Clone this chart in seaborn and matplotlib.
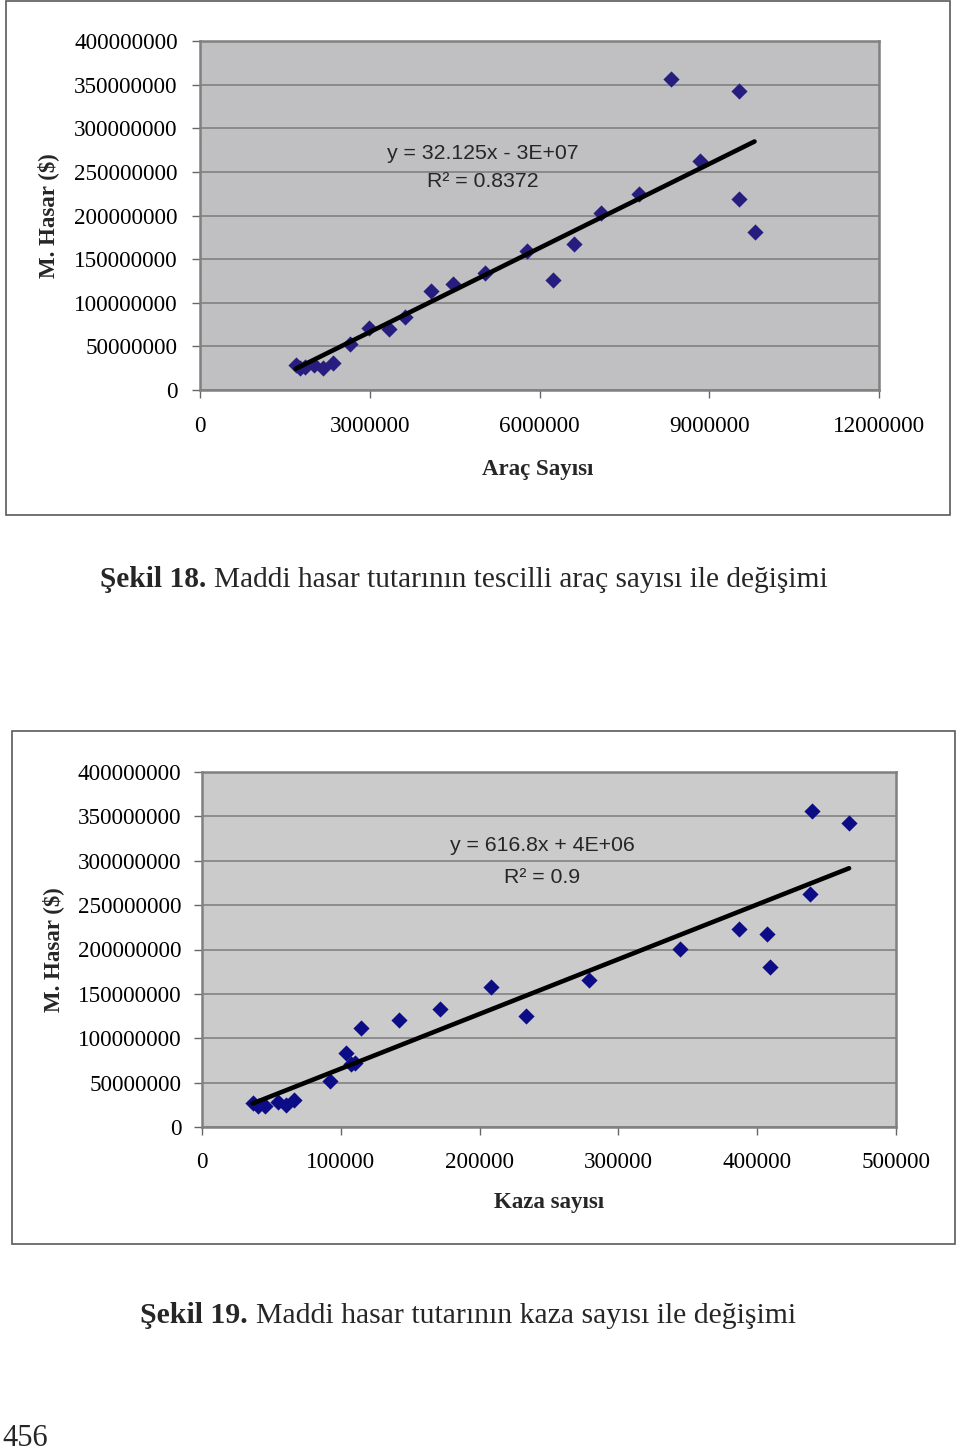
import numpy as np
import pandas as pd
import matplotlib
matplotlib.use("Agg")
import matplotlib.pyplot as plt
from matplotlib.patches import Rectangle
from matplotlib.ticker import FuncFormatter
import seaborn as sns

# ---------------- data: Şekil 18 (Araç sayısı vs M. Hasar) ----------------
arac_sayisi = [1.69e6, 1.77e6, 1.86e6, 2.02e6, 2.17e6, 2.35e6, 2.65e6, 2.98e6,
               3.34e6, 3.63e6, 4.08e6, 4.47e6, 5.04e6, 5.78e6, 6.23e6, 6.61e6,
               7.09e6, 7.76e6, 8.33e6, 8.83e6, 9.52e6, 9.52e6, 9.80e6]
hasar_18 = [28.7e6, 24.9e6, 26.0e6, 28.7e6, 25.7e6, 30.6e6, 52.8e6, 71.6e6,
            70.0e6, 84.2e6, 113.7e6, 121.0e6, 134.0e6, 159.6e6, 125.6e6, 167.7e6,
            202.5e6, 224.3e6, 356.8e6, 261.9e6, 342.6e6, 219.0e6, 181.0e6]
fit18_slope = 32.125
fit18_intercept = -3e7
eq18 = "y = 32.125x - 3E+07"
r2_18 = "R² = 0.8372"
xticks18 = [0, 3000000, 6000000, 9000000, 12000000]

# ---------------- data: Şekil 19 (Kaza sayısı vs M. Hasar) ----------------
kaza_sayisi = [36.4e3, 40.7e3, 45.7e3, 55.0e3, 60.6e3, 66.2e3, 92.0e3, 103.6e3,
               107.6e3, 110.0e3, 114.9e3, 141.7e3, 171.5e3, 208.3e3, 233.4e3, 279.1e3,
               344.4e3, 387.1e3, 407.0e3, 409.3e3, 438.1e3, 439.7e3, 466.2e3]
hasar_19 = [27.5e6, 23.7e6, 23.7e6, 28.2e6, 24.8e6, 30.1e6, 51.9e6, 83.1e6,
            70.7e6, 72.0e6, 112.1e6, 120.4e6, 133.2e6, 157.3e6, 124.9e6, 165.9e6,
            200.9e6, 223.1e6, 217.5e6, 180.2e6, 262.6e6, 355.9e6, 342.4e6]
fit19_slope = 616.8
fit19_intercept = 4e6
eq19 = "y = 616.8x + 4E+06"
r2_19 = "R² = 0.9"
xticks19 = [0, 100000, 200000, 300000, 400000, 500000]

yticks = [0, 50000000, 100000000, 150000000, 200000000, 250000000,
          300000000, 350000000, 400000000]
ylabel = "M. Hasar ($)"

sns.set_theme(style="white")
plt.rcParams['font.family'] = ['Liberation Serif', 'DejaVu Serif']

W, H = 960, 1453
fig = plt.figure(figsize=(W / 100, H / 100), dpi=100)


def rect(x0, y0, x1, y1):
    return [x0 / W, 1 - y1 / H, (x1 - x0) / W, (y1 - y0) / H]


def frame(x0, y0, x1, y1):
    fig.add_artist(Rectangle((x0 / W, 1 - y1 / H), (x1 - x0) / W, (y1 - y0) / H,
                             transform=fig.transFigure, fill=False,
                             edgecolor='#5a5a5a', lw=1.2))


def panel(box, x, y, slope, icpt, xticks, color, bg, xlabel, eq, r2,
          eqx, eqy1, eqy2, xlab_pos, ylab_pos, xpad, ypad):
    ax = fig.add_axes(rect(*box))
    ax.set_facecolor(bg)
    df = pd.DataFrame({'x': x, 'y': y})
    xs = np.array([min(x), max(x)])
    line = pd.DataFrame({'x': xs, 'y': slope * xs + icpt})
    sns.scatterplot(data=df, x='x', y='y', ax=ax, marker='D', s=68,
                    color=color, edgecolor=color, linewidth=0, zorder=3)
    sns.lineplot(data=line, x='x', y='y', ax=ax, color='black', lw=3.3, zorder=4)
    ax.set_xlim(xticks[0], xticks[-1])
    ax.set_ylim(yticks[0], yticks[-1])
    ax.set_xticks(xticks)
    ax.set_yticks(yticks)
    fmt = FuncFormatter(lambda v, p: f"{int(round(v))}")
    ax.xaxis.set_major_formatter(fmt)
    ax.yaxis.set_major_formatter(fmt)
    ax.yaxis.grid(True, color='#7c7c7c', lw=1.1)
    ax.xaxis.grid(False)
    ax.set_axisbelow(True)
    for s in ax.spines.values():
        s.set_visible(True)
        s.set_color('#808080')
        s.set_linewidth(1.8)
    ax.tick_params(axis='both', which='major', direction='out', length=6,
                   width=1, color='#666666', labelsize=16.7, labelcolor='black',
                   bottom=True, left=True)
    ax.tick_params(axis='x', pad=xpad)
    ax.tick_params(axis='y', pad=ypad)
    ax.set_xlabel(xlabel, fontsize=16.5, fontweight='bold', va='center')
    ax.set_ylabel(ylabel, fontsize=16.5, fontweight='bold', va='center')
    ax.xaxis.set_label_coords(*xlab_pos)
    ax.yaxis.set_label_coords(*ylab_pos)
    ax.text(eqx, eqy1, eq, transform=ax.transAxes, ha='center', va='center',
            family=['Liberation Sans', 'DejaVu Sans'], fontsize=15.3)
    ax.text(eqx, eqy2, r2, transform=ax.transAxes, ha='center', va='center',
            family=['Liberation Sans', 'DejaVu Sans'], fontsize=15.3)
    return ax


# chart frames
frame(6, 1, 950, 515)
frame(12, 731, 955, 1244)

panel((200, 41, 879, 390), arac_sayisi, hasar_18, fit18_slope, fit18_intercept,
      xticks18, '#261d7e', '#c0c0c3', "Araç Sayısı", eq18, r2_18,
      0.4168, 0.679, 0.596, (0.498, -0.229), (-0.224, 0.4986), 13, 10)

panel((202, 772, 896, 1127), kaza_sayisi, hasar_19, fit19_slope, fit19_intercept,
      xticks19, '#0c0c86', '#cbcbcb', "Kaza sayısı", eq19, r2_19,
      0.49, 0.794, 0.704, (0.50, -0.214), (-0.2147, 0.4986), 12, 9)

renderer = fig.canvas.get_renderer()


def caption(x_px, base_px, bold, rest, size):
    t1 = fig.text(x_px / W, 1 - base_px / H, bold, fontsize=size,
                  fontweight='bold', va='baseline', ha='left')
    bb = t1.get_window_extent(renderer)
    gap = 0.28 * size * 100 / 72
    fig.text((bb.x1 + gap) / W, 1 - base_px / H, rest, fontsize=size,
             va='baseline', ha='left')


caption(100, 587, "Şekil 18.", "Maddi hasar tutarının tescilli araç sayısı ile değişimi", 21.2)
caption(140, 1323, "Şekil 19.", "Maddi hasar tutarının kaza sayısı ile değişimi", 21.4)

fig.text(2 / W, 1 - 1446 / H, "456", fontsize=22, va='baseline', ha='left')

fig.savefig("out.png", dpi=100)
